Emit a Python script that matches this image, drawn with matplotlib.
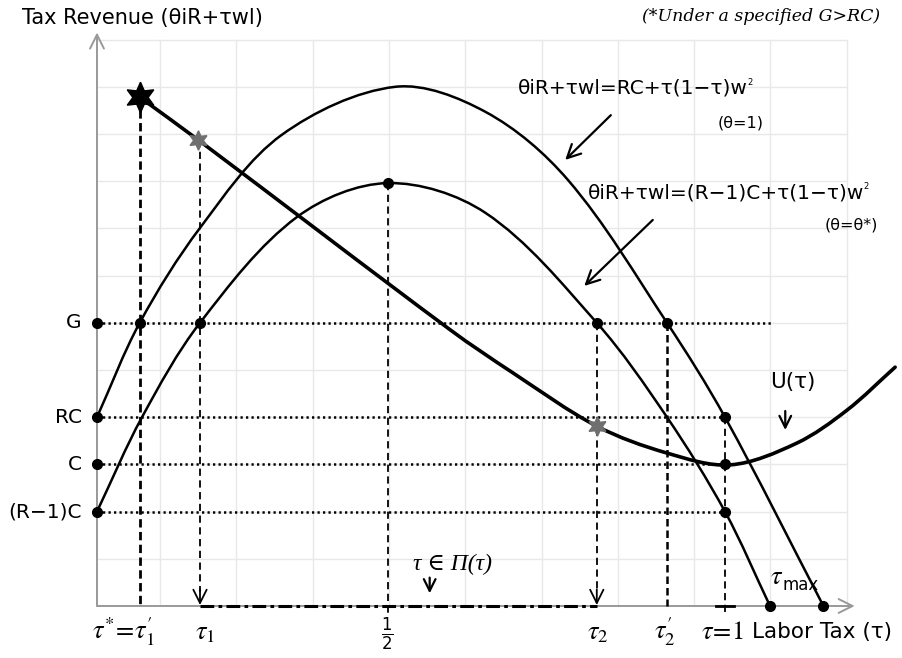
import numpy as np
import matplotlib.pyplot as plt
from matplotlib.path import Path
from matplotlib.patches import PathPatch

# revenue levels marked on the vertical axis
level_names = ["G", "RC", "C", "(R\u22121)C"]
level_vals = [6.0, 4.0, 3.0, 2.0]

# key tax rates on the horizontal axis (grid units)
tau_star = 0.56      # tau* = tau1'
tau_1 = 1.35
tau_half = 3.81
tau_2 = 6.55
tau_2p = 7.47
tau_one = 8.23
tau_max = [8.82, 9.52]
G_end = 8.85

# revenue curve, theta = 1
upper_x = [0.0, 0.56, 1.35, 2.42, 3.91, 5.09, 6.17, 7.47, 8.23, 9.52]
upper_y = [4.0, 6.0, 8.01, 9.98, 11.0, 10.47, 9.03, 6.0, 4.0, 0.0]

# revenue curve, theta = theta*
lower_x = [0.0, 0.59, 1.35, 2.62, 3.81, 5.09, 6.55, 7.47, 8.23, 8.82]
lower_y = [2.0, 4.0, 6.0, 8.24, 8.96, 8.33, 6.0, 4.0, 2.0, 0.0]

# U(tau)
u_x = [0.56, 1.33, 4.63, 5.45, 6.55, 7.47, 8.30, 9.17, 9.83, 10.46]
u_y = [10.78, 9.87, 5.85, 4.94, 3.81, 3.24, 2.99, 3.45, 4.15, 5.06]

star_x, star_y = 0.56, 10.78
gray_x = [1.33, 6.55]
gray_y = [9.87, 3.81]
peak_x, peak_y = 3.81, 8.96

PX_X, PX_Y = 76.3, 47.2   # pixels per grid unit


def smooth_path(xs, ys):
    # Bezier path through the read points, chord-length Catmull-Rom tangents
    p = np.column_stack([xs, ys]).astype(float)
    q = p * [PX_X, PX_Y]
    t = np.concatenate([[0], np.cumsum(np.hypot(*np.diff(q, axis=0).T))])
    n = len(p)
    tan = np.zeros_like(p)
    for i in range(n):
        a, b = max(i - 1, 0), min(i + 1, n - 1)
        tan[i] = (p[b] - p[a]) / (t[b] - t[a])
    verts = [p[0]]
    codes = [Path.MOVETO]
    for i in range(n - 1):
        h = (t[i + 1] - t[i]) / 3.0
        verts += [p[i] + tan[i] * h, p[i + 1] - tan[i + 1] * h, p[i + 1]]
        codes += [Path.CURVE4] * 3
    return Path(verts, codes)


fig = plt.figure(figsize=(9.03, 6.58), dpi=100)
ax = fig.add_axes([0, 0, 1, 1])
ax.set_xlim(-1.271, 10.563)
ax.set_ylim(-1.102, 12.839)
ax.axis("off")

# light grid
for gx in np.arange(0.826, 9.9, 1.0):
    ax.plot([gx, gx], [0, 12], color="#e8e8e8", lw=1, zorder=0)
for gy in range(1, 13):
    ax.plot([0, 9.83], [gy, gy], color="#e8e8e8", lw=1, zorder=0)

# axes with open arrow heads
for tip in [(0, 12.15), (9.93, 0)]:
    ax.annotate("", xy=tip, xytext=(0, 0),
                arrowprops=dict(arrowstyle="->,head_length=0.5,head_width=0.25",
                                color="#999999", lw=1.4, mutation_scale=20,
                                shrinkA=0, shrinkB=0), zorder=1)

# dotted level lines
dots = (0, (0.9, 1.3))
for v in level_vals:
    end = G_end if v == 6.0 else tau_one
    ax.plot([0, end], [v, v], color="k", lw=1.8, linestyle=dots, zorder=2)

# dashed verticals
thin = (0, (4, 2.5))
thick = (0, (3, 1.6))
ax.plot([tau_star, tau_star], [star_y, 0], color="k", lw=2.0, linestyle=thick, zorder=2)
ax.plot([tau_1, tau_1], [gray_y[0], 0.3], color="k", lw=1.3, linestyle=thin, zorder=2)
ax.plot([tau_half, tau_half], [peak_y, -0.15], color="k", lw=1.3, linestyle=thin, zorder=2)
ax.plot([tau_2, tau_2], [6.0, 0.3], color="k", lw=1.3, linestyle=thin, zorder=2)
ax.plot([tau_2p, tau_2p], [6.0, 0], color="k", lw=1.8, linestyle=thick, zorder=2)
ax.plot([tau_one, tau_one], [4.0, -0.15], color="k", lw=1.3, linestyle=thin, zorder=2)
ax.plot([tau_one - 0.12, tau_one + 0.12], [0, 0], color="k", lw=2, zorder=3)

for tx in [tau_1, tau_2]:
    ax.annotate("", xy=(tx, 0.02), xytext=(tx, 0.35),
                arrowprops=dict(arrowstyle="->,head_length=0.6,head_width=0.3",
                                color="k", lw=1.3, mutation_scale=16,
                                shrinkA=0, shrinkB=0), zorder=3)

# feasible set along the axis
ax.plot([tau_1, tau_2], [0, 0], color="k", lw=2.2,
        linestyle=(0, (4.5, 1.4, 1.2, 1.4)), zorder=3)

# curves
for xs, ys, lw in [(upper_x, upper_y, 1.8), (lower_x, lower_y, 1.8), (u_x, u_y, 2.6)]:
    ax.add_patch(PathPatch(smooth_path(xs, ys), facecolor="none", edgecolor="k",
                           lw=lw, zorder=4, capstyle="round"))

# points
pts_x = [0, 0, 0, 0, tau_star, tau_1, tau_2, tau_2p, peak_x,
         tau_one, tau_one, tau_one] + tau_max
pts_y = level_vals + [6.0, 6.0, 6.0, 6.0, peak_y, 4.0, 3.0, 2.0, 0, 0]
ax.plot(pts_x, pts_y, "o", color="k", ms=7, zorder=5)

ax.plot(star_x, star_y, marker=(6, 1, 0), color="k", ms=22, zorder=6)
ax.plot(gray_x, gray_y, linestyle="none", marker=(6, 1, 0), color="#6f6f6f",
        ms=14, zorder=6)

# texts
sans = "DejaVu Sans"
ax.text(-0.98, 12.46, "Tax Revenue (\u03b8iR+\u03c4wl)", fontsize=15, family=sans,
        ha="left", va="center")
ax.text(10.26, 12.48, "(*Under a specified G>RC)", fontsize=12.5,
        family="DejaVu Serif", style="italic", ha="right", va="center")

eq1 = ax.text(5.52, 10.97, "\u03b8iR+\u03c4wl=RC+\u03c4(1\u2212\u03c4)w", fontsize=14.5,
              family=sans, ha="left", va="center")
ax.text(8.44, 10.23, "(\u03b8=1)", fontsize=11.5, family=sans, ha="center", va="center")
ax.annotate("", xy=(6.11, 9.41), xytext=(6.76, 10.44),
            arrowprops=dict(arrowstyle="->,head_length=0.6,head_width=0.3",
                            color="k", lw=1.6, mutation_scale=16))

eq2 = ax.text(6.43, 8.75, "\u03b8iR+\u03c4wl=(R\u22121)C+\u03c4(1\u2212\u03c4)w", fontsize=14.5,
              family=sans, ha="left", va="center")
ax.text(10.24, 8.07, "(\u03b8=\u03b8*)", fontsize=11.5, family=sans, ha="right", va="center")
ax.annotate("", xy=(6.36, 6.74), xytext=(7.31, 8.22),
            arrowprops=dict(arrowstyle="->,head_length=0.6,head_width=0.3",
                            color="k", lw=1.6, mutation_scale=16))

# tiny squared marks after the equations
fig.canvas.draw()
inv = ax.transData.inverted()
for t, ty in [(eq1, 10.97), (eq2, 8.75)]:
    bb = t.get_window_extent()
    x1 = inv.transform((bb.x1, bb.y1))[0]
    ax.text(x1 - 0.01, ty + 0.13, "2", fontsize=6, family=sans, ha="left", va="center")

ax.text(9.12, 4.75, "U(\u03c4)", fontsize=15.5, family=sans, ha="center", va="center")
ax.annotate("", xy=(9.02, 3.67), xytext=(9.02, 4.19),
            arrowprops=dict(arrowstyle="->,head_length=0.6,head_width=0.3",
                            color="k", lw=1.6, mutation_scale=14))

ax.text(4.14, 0.87, "\u03c4 \u2208 \u03a0(\u03c4)", fontsize=17,
        family=["Liberation Serif", "DejaVu Serif"], style="italic",
        ha="left", va="center")
ax.annotate("", xy=(4.36, 0.21), xytext=(4.36, 0.66),
            arrowprops=dict(arrowstyle="->,head_length=0.6,head_width=0.3",
                            color="k", lw=1.6, mutation_scale=14))
ax.text(8.82, 0.62, r"$\tau$", fontsize=19, math_fontfamily="stix",
        ha="left", va="center")
ax.text(8.99, 0.44, "max", fontsize=12, family=sans, ha="left", va="center")

for name, v in zip(level_names, level_vals):
    ax.text(-0.20, v, name, fontsize=14.5, family=sans, ha="right", va="center")

xl_y = -0.55
ax.text(0.35, xl_y, r"$\tau^{*}\!=\!\tau_{1}^{\prime}$", fontsize=19,
        math_fontfamily="stix", ha="center", va="center")
ax.text(1.42, xl_y, r"$\tau_{1}$", fontsize=19, math_fontfamily="stix",
        ha="center", va="center")
ax.text(tau_half, -0.6, r"$\frac{1}{2}$", fontsize=17, math_fontfamily="dejavusans",
        ha="center", va="center")
ax.text(6.57, xl_y, r"$\tau_{2}$", fontsize=19, math_fontfamily="stix",
        ha="center", va="center")
ax.text(7.44, xl_y, r"$\tau_{2}^{\prime}$", fontsize=19, math_fontfamily="stix",
        ha="center", va="center")
ax.text(8.20, xl_y, r"$\tau\!=\!\mathit{1}$", fontsize=19, math_fontfamily="stix",
        ha="center", va="center")
ax.text(8.58, xl_y, "Labor Tax (\u03c4)", fontsize=15.5, family=sans,
        ha="left", va="center")

fig.savefig("out.png", dpi=100)
